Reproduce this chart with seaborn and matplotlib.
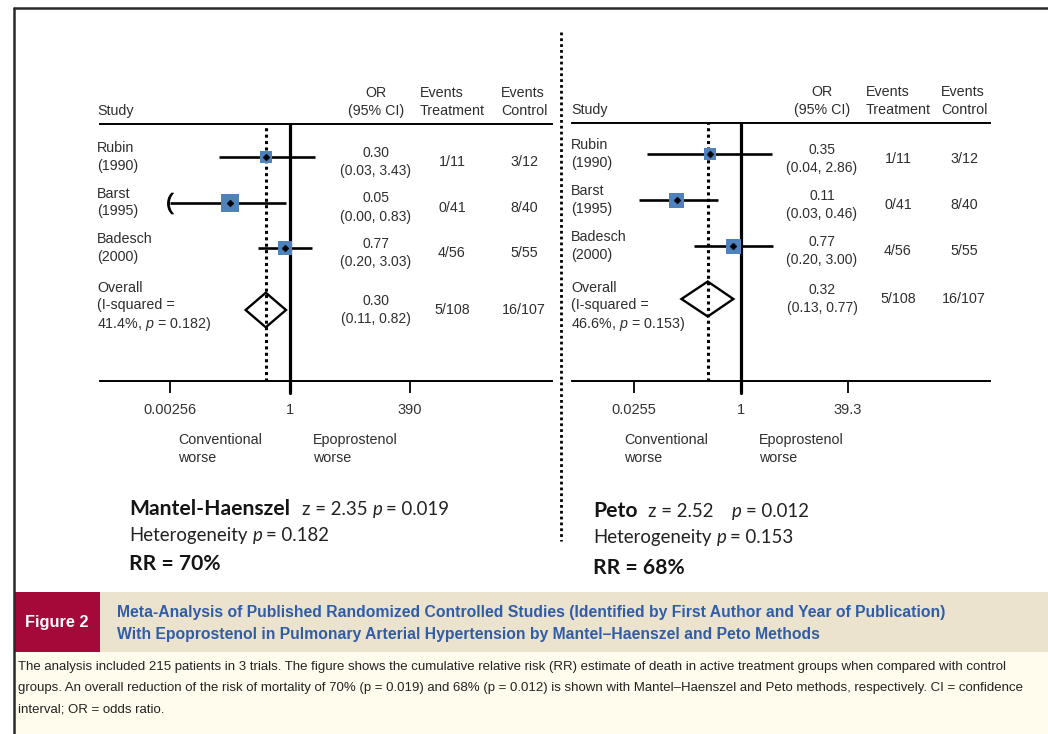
import numpy as np
import pandas as pd
import matplotlib
matplotlib.use("Agg")
import matplotlib.pyplot as plt
import seaborn as sns
from matplotlib import transforms
from matplotlib.lines import Line2D
from matplotlib.patches import Rectangle
from matplotlib.ticker import NullLocator, FixedLocator, FixedFormatter

# ---------------- data ----------------
studies = ["Rubin", "Barst", "Badesch"]
years = ["(1990)", "(1995)", "(2000)"]
events_treatment = ["1/11", "0/41", "4/56"]
events_control = ["3/12", "8/40", "5/55"]
total_treatment = "5/108"
total_control = "16/107"

mh_or = [0.30, 0.05, 0.77]
mh_lo = [0.03, 0.00, 0.20]
mh_hi = [3.43, 0.83, 3.03]
mh_overall = [0.30, 0.11, 0.82]
mh_i2 = "41.4%"
mh_het_p = "0.182"
mh_weight = [12, 18, 14]
mh_ticks = [0.00256, 1, 390]
mh_ticklabels = ["0.00256", "1", "390"]
mh_z, mh_p, mh_rr = "2.35", "0.019", "70%"

peto_or = [0.35, 0.11, 0.77]
peto_lo = [0.04, 0.03, 0.20]
peto_hi = [2.86, 0.46, 3.00]
peto_overall = [0.32, 0.13, 0.77]
peto_i2 = "46.6%"
peto_het_p = "0.153"
peto_weight = [12, 15, 15]
peto_ticks = [0.0255, 1, 39.3]
peto_ticklabels = ["0.0255", "1", "39.3"]
peto_z, peto_p, peto_rr = "2.52", "0.012", "68%"

title_lines = [
    "Meta-Analysis of Published Randomized Controlled Studies (Identified by First Author and Year of Publication)",
    "With Epoprostenol in Pulmonary Arterial Hypertension by Mantel\u2013Haenszel and Peto Methods",
]
caption_lines = [
    "The analysis included 215 patients in 3 trials. The figure shows the cumulative relative risk (RR) estimate of death in active treatment groups when compared with control",
    "groups. An overall reduction of the risk of mortality of 70% (p = 0.019) and 68% (p = 0.012) is shown with Mantel\u2013Haenszel and Peto methods, respectively. CI = confidence",
    "interval; OR = odds ratio.",
]

# ---------------- style ----------------
W, H = 1048, 734
sns.set_theme(style="white")
plt.rcParams["font.family"] = ["Liberation Sans", "DejaVu Sans"]
plt.rcParams["mathtext.fontset"] = "custom"
plt.rcParams["mathtext.rm"] = "Liberation Sans"
plt.rcParams["mathtext.it"] = "Liberation Sans:italic"

TXT = "#2e2e2e"
BLUE_SQ = "#4f81bd"
NARROW = ["Liberation Sans Narrow", "Liberation Sans", "DejaVu Sans"]

fig = plt.figure(figsize=(W / 100, H / 100), dpi=100, facecolor="white")


def fx(x):
    return x / W


def fy(y):
    return 1 - y / H


def panel(box, one_px, ppd, row0_px, gap_px, overall_px, ors, los, his, overall,
          weights, ticks, ticklabels, study_x, cols, i2, het_p):
    l, t, r, b = box
    ax = fig.add_axes([fx(l), fy(b), (r - l) / W, (b - t) / H])
    ax.set_facecolor("none")
    ax.set_xscale("log")
    ax.set_xlim(10 ** ((l - one_px) / ppd), 10 ** ((r - one_px) / ppd))
    ax.set_ylim((b - row0_px) / gap_px, (t - row0_px) / gap_px)
    ov_y = (overall_px - row0_px) / gap_px
    ypos = [0, 1, 2]

    for s in ["left", "right"]:
        ax.spines[s].set_visible(False)
    for s in ["top", "bottom"]:
        ax.spines[s].set_color("black")
        ax.spines[s].set_linewidth(1.4)
    ax.xaxis.set_major_locator(FixedLocator(ticks))
    ax.xaxis.set_major_formatter(FixedFormatter(ticklabels))
    ax.xaxis.set_minor_locator(NullLocator())
    ax.set_yticks([])
    ax.tick_params(axis="x", which="major", bottom=True, direction="out", length=8.5,
                   width=1.3, pad=7, labelsize=10.5, color="black", labelcolor="#333333")

    # reference lines
    ax.axvline(1, ymin=-0.045, ymax=1, clip_on=False, color="black", lw=2.3, zorder=2)
    ax.axvline(overall[0], color="black", lw=2.2, ls=(0, (1, 1.1)), zorder=2)

    # confidence intervals (clipped to display range, arrow if off-scale)
    dmin = ticks[0]
    for yy, lo, hi in zip(ypos, los, his):
        lo_c = max(lo, dmin)
        ax.hlines(yy, lo_c, hi, color="black", lw=1.9, zorder=3)
        if lo < dmin:
            ax.plot([lo_c], [yy], marker="$($", markersize=15, color="black",
                    markeredgewidth=0.6, zorder=3)

    df = pd.DataFrame({"or": ors, "y": ypos, "w": weights})
    sns.scatterplot(data=df, x="or", y="y", size="w",
                    sizes={w: (w * 0.72) ** 2 for w in weights},
                    marker="s", color=BLUE_SQ, edgecolor="none", legend=False,
                    ax=ax, zorder=4)
    sns.scatterplot(data=df, x="or", y="y", marker="D", s=12, color="black",
                    edgecolor="black", linewidth=0.4, legend=False, ax=ax, zorder=5)

    # overall diamond
    h = 0.38
    ax.fill([overall[1], overall[0], overall[2], overall[0]],
            [ov_y, ov_y - h, ov_y, ov_y + h], facecolor="none",
            edgecolor="black", lw=1.7, zorder=4)
    ax.set_xlabel("")
    ax.set_ylabel("")

    # text columns
    blend = transforms.blended_transform_factory(fig.transFigure, ax.transData)
    down = transforms.offset_copy(blend, fig=fig, x=0, y=-5, units="dots")
    fs = 10.3
    for yy, nm, yr in zip(ypos, studies, years):
        ax.text(fx(study_x), yy, f"{nm}\n{yr}", transform=blend, ha="left",
                va="center", fontsize=fs, color=TXT, linespacing=1.3)
    ov_lab = "Overall\n(I-squared =\n" + i2 + ", $p$ = " + het_p + ")"
    ax.text(fx(study_x), ov_y, ov_lab, transform=transforms.offset_copy(
        blend, fig=fig, x=0, y=(overall_px - 307), units="dots"),
        ha="left", va="center", fontsize=fs, color=TXT, linespacing=1.28)

    or_c, tr_c, ct_c = cols
    for yy, o, lo, hi, et, ec in zip(ypos, ors, los, his, events_treatment, events_control):
        ax.text(fx(or_c), yy, f"{o:.2f}\n({lo:.2f}, {hi:.2f})", transform=down,
                ha="center", va="center", fontsize=10.0, color=TXT, linespacing=1.45)
        ax.text(fx(tr_c), yy, et, transform=down, ha="center", va="center",
                fontsize=fs, color=TXT)
        ax.text(fx(ct_c), yy, ec, transform=down, ha="center", va="center",
                fontsize=fs, color=TXT)
    ax.text(fx(or_c), ov_y, f"{overall[0]:.2f}\n({overall[1]:.2f}, {overall[2]:.2f})",
            transform=blend, ha="center", va="center", fontsize=10.0, color=TXT,
            linespacing=1.45)
    ax.text(fx(tr_c), ov_y, total_treatment, transform=blend, ha="center",
            va="center", fontsize=fs, color=TXT)
    ax.text(fx(ct_c), ov_y, total_control, transform=blend, ha="center",
            va="center", fontsize=fs, color=TXT)

    # headers
    hy = t - 6
    fig.text(fx(study_x), fy(hy), "Study", ha="left", va="bottom", fontsize=fs, color=TXT)
    fig.text(fx(or_c), fy(hy), "OR\n(95% CI)", ha="center", va="bottom", fontsize=fs,
             color=TXT, multialignment="center", linespacing=1.35)
    fig.text(fx(tr_c), fy(hy), "Events\nTreatment", ha="center", va="bottom",
             fontsize=fs, color=TXT, multialignment="left", linespacing=1.35)
    fig.text(fx(ct_c), fy(hy), "Events\nControl", ha="center", va="bottom",
             fontsize=fs, color=TXT, multialignment="left", linespacing=1.35)
    return ax


ax_mh = panel((100, 124, 552, 381), 290, 46.3, 157, 45.5, 310,
              mh_or, mh_lo, mh_hi, mh_overall, mh_weight, mh_ticks, mh_ticklabels,
              97, (376, 452, 524), mh_i2, mh_het_p)
ax_pe = panel((572, 123, 990, 381), 741, 67.2, 154, 46.0, 299,
              peto_or, peto_lo, peto_hi, peto_overall, peto_weight, peto_ticks,
              peto_ticklabels, 571, (822, 898, 964), peto_i2, peto_het_p)

# direction labels
for x in (178, 624):
    fig.text(fx(x), fy(433), "Conventional\nworse", ha="left", va="top",
             fontsize=10.3, color=TXT, linespacing=1.32)
for x in (313, 759):
    fig.text(fx(x), fy(433), "Epoprostenol\nworse", ha="left", va="top",
             fontsize=10.3, color=TXT, linespacing=1.32)

# separator between panels
fig.add_artist(Line2D([fx(561), fx(561)], [fy(32), fy(541)], color="black",
                      lw=2.0, ls=(0, (1, 1.1))))

# ---------------- statistics text ----------------
renderer = fig.canvas.get_renderer()
STAT = ["Lato", "DejaVu Sans"]


def runs(x, y, parts):
    cx = x
    for txt, kw, gap in parts:
        tt = fig.text(fx(cx), fy(y), txt, ha="left", va="baseline", family=STAT, **kw)
        bb = tt.get_window_extent(renderer=renderer)
        cx = bb.x1 + gap


bold = dict(fontsize=15.2, fontweight="bold", color="#151515")
reg = dict(fontsize=13.4, color="#222222")
ital = dict(fontsize=13.4, style="italic", color="#222222")
rrb = dict(fontsize=15.2, fontweight="bold", color="#151515")

runs(129, 515, [("Mantel-Haenszel", bold, 0)])
runs(302, 515, [("z = " + mh_z, reg, 5), ("p", ital, 4), ("= " + mh_p, reg, 0)])
runs(129, 541, [("Heterogeneity", reg, 5), ("p", ital, 4), ("= " + mh_het_p, reg, 0)])
runs(129, 570, [("RR = " + mh_rr, rrb, 0)])

runs(593, 517, [("Peto", bold, 0)])
runs(648, 517, [("z = " + peto_z, reg, 0)])
runs(732, 517, [("p", ital, 4), ("= " + peto_p, reg, 0)])
runs(593, 543, [("Heterogeneity", reg, 5), ("p", ital, 4), ("= " + peto_het_p, reg, 0)])
runs(593, 574, [("RR = " + peto_rr, rrb, 0)])

# ---------------- caption block ----------------
fig.add_artist(Rectangle((fx(100), fy(652)), fx(W - 100), (652 - 592) / H,
                         facecolor="#ece3cf", edgecolor="none", zorder=0))
fig.add_artist(Rectangle((fx(14), fy(652)), fx(86), (652 - 592) / H,
                         facecolor="#a5093a", edgecolor="none", zorder=0))
fig.add_artist(Rectangle((fx(14), fy(734)), fx(W - 14), (734 - 652) / H,
                         facecolor="#fffcee", edgecolor="none", zorder=0))
fig.text(fx(57), fy(622), "Figure 2", ha="center", va="center", color="white",
         fontsize=11.8, fontweight="bold", family=NARROW)
for i, line in enumerate(title_lines):
    fig.text(fx(117), fy(613 + 21 * i), line, ha="left", va="center", color="#2f5da8",
             fontsize=11.3, fontweight="bold", family=NARROW)
for i, line in enumerate(caption_lines):
    fig.text(fx(18), fy(667 + 21 * i), line, ha="left", va="center", color="#222222",
             fontsize=9.55, family=NARROW)

# frame
fig.add_artist(Line2D([fx(14), fx(W)], [fy(8), fy(8)], color="#2a2a2a", lw=1.8))
fig.add_artist(Line2D([fx(14), fx(14)], [fy(8), fy(H)], color="#2a2a2a", lw=1.8))

fig.savefig("out.png", dpi=100, facecolor="white")
